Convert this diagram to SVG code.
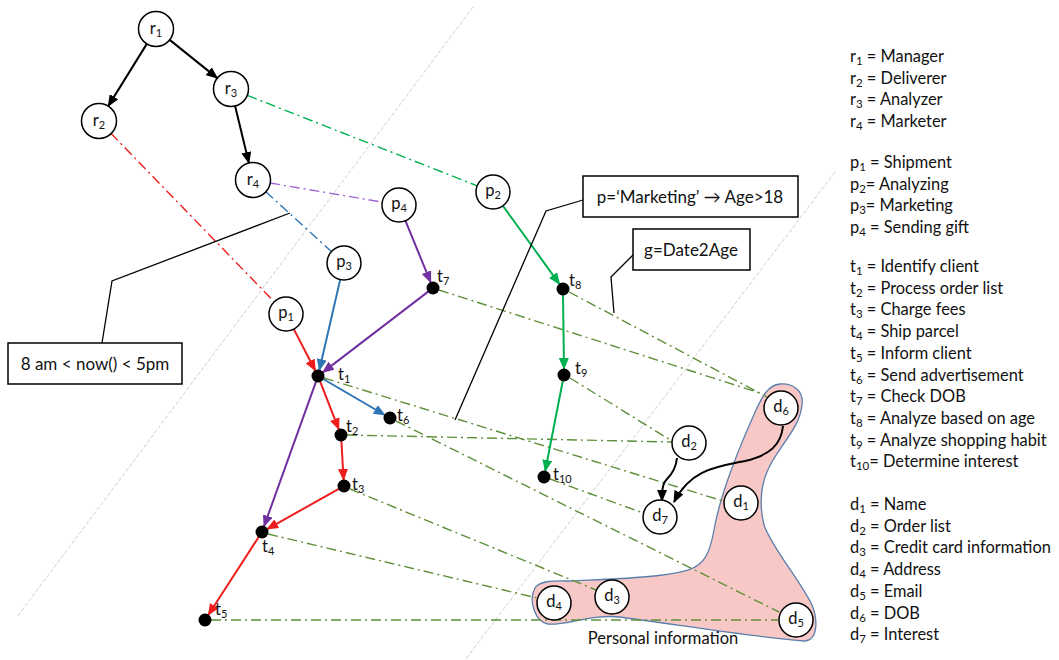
<svg xmlns="http://www.w3.org/2000/svg" width="1059" height="660" viewBox="0 0 1059 660">
<style>
text{font-family:Lato,"Open Sans","Liberation Sans",sans-serif;fill:#111}
.c{fill:#fff;stroke:#000;stroke-width:1.5}
.dot{fill:#000}
.lbl{font-size:16.5px}
.sub{font-size:11px}
.leg{font-size:16.4px}
.leg .sub{font-size:11.5px}
.box{fill:#fff;stroke:#000;stroke-width:1.5}
.callout{fill:none;stroke:#000;stroke-width:1.3}
.grey{stroke:#cfcfcf;stroke-width:1;stroke-dasharray:4 2;fill:none}
.dd{fill:none;stroke-width:1.4;stroke-dasharray:10 4 2 4}
.a{fill:none;stroke-width:2}
</style>
<defs>
<marker id="mk" markerUnits="userSpaceOnUse" markerWidth="12" markerHeight="10" refX="11" refY="5" orient="auto"><path d="M0,0 L12,5 L0,10 Z" fill="#000"/></marker>
<marker id="mr" markerUnits="userSpaceOnUse" markerWidth="12" markerHeight="10" refX="11" refY="5" orient="auto"><path d="M0,0 L12,5 L0,10 Z" fill="#ee1c1c"/></marker>
<marker id="mb" markerUnits="userSpaceOnUse" markerWidth="12" markerHeight="10" refX="11" refY="5" orient="auto"><path d="M0,0 L12,5 L0,10 Z" fill="#2e75b6"/></marker>
<marker id="mp" markerUnits="userSpaceOnUse" markerWidth="12" markerHeight="10" refX="11" refY="5" orient="auto"><path d="M0,0 L12,5 L0,10 Z" fill="#7030a0"/></marker>
<marker id="mg" markerUnits="userSpaceOnUse" markerWidth="12" markerHeight="10" refX="11" refY="5" orient="auto"><path d="M0,0 L12,5 L0,10 Z" fill="#00b050"/></marker>
</defs>

<g id="guides">
<line class="grey" x1="473" y1="7" x2="17" y2="617"/>
<line class="grey" x1="835" y1="172" x2="465" y2="660"/>
</g>

<g id="personal-information">
<path d="M780 384 C792 383 804 390 802 405 C800 425 785 440 773 460 C762 478 758 500 764 525 C772 548 800 580 812 605 C818 620 818 640 805 641 C760 638 680 625 620 617 C590 614 565 626 548 624 C535 622 528 600 535 588 C540 580 555 581 570 581 C610 579 660 578 688 570 C705 565 710 552 714 530 C720 495 738 450 756 410 C762 397 768 385 780 384 Z" fill="#f8c8c6" stroke="#5b7fad" stroke-width="1.3"/>
<text x="663" y="644" text-anchor="middle" style="font-size:16.5px">Personal information</text>
</g>

<g id="connectors">
<line class="dd" stroke="#ee1c1c" x1="110.8" y1="133.2" x2="274.2" y2="301.8"/>
<line class="dd" stroke="#00b050" x1="247.3" y1="95.4" x2="477.2" y2="185.8"/>
<line class="dd" stroke="#a066d3" x1="270" y1="183" x2="382.2" y2="202.1"/>
<line class="dd" stroke="#2e75b6" x1="265.6" y1="191.5" x2="331.4" y2="251.5"/>
<g stroke="#5f8f3a">
<line class="dd" x1="439" y1="290" x2="763" y2="394"/>
<line class="dd" x1="569" y1="292" x2="767" y2="397"/>
<line class="dd" x1="570" y1="378" x2="672" y2="441"/>
<line class="dd" x1="347" y1="435" x2="672" y2="442"/>
<line class="dd" x1="324" y1="378" x2="723" y2="501"/>
<line class="dd" x1="396" y1="421" x2="779" y2="612"/>
<line class="dd" x1="550" y1="479" x2="643" y2="513"/>
<line class="dd" x1="350" y1="489" x2="596" y2="590"/>
<line class="dd" x1="268" y1="534" x2="537" y2="598"/>
<line class="dd" x1="211" y1="620" x2="778" y2="620"/>
</g>
<line class="a" stroke="#000" x1="146.8" y1="43.9" x2="108.2" y2="106.1" marker-end="url(#mk)"/>
<line class="a" stroke="#000" x1="169.7" y1="39.9" x2="217.3" y2="78.1" marker-end="url(#mk)"/>
<line class="a" stroke="#000" x1="235.1" y1="106" x2="248.9" y2="163" marker-end="url(#mk)"/>
<path class="a" stroke="#000" d="M677 458 C676 468 672 474 667 479 C662 484 662 492 662 501" marker-end="url(#mk)"/>
<path class="a" stroke="#000" d="M783 426 C781 445 770 455 745 461 C715 467 690 470 674 502" marker-end="url(#mk)"/>
<line class="a" stroke="#ee1c1c" x1="293.8" y1="329.1" x2="315.3" y2="370.7" marker-end="url(#mr)"/>
<line class="a" stroke="#ee1c1c" x1="320.2" y1="381.6" x2="338.8" y2="429.4" marker-end="url(#mr)"/>
<line class="a" stroke="#ee1c1c" x1="341.4" y1="441" x2="343.6" y2="480" marker-end="url(#mr)"/>
<line class="a" stroke="#ee1c1c" x1="338.8" y1="488.9" x2="267.2" y2="529.1" marker-end="url(#mr)"/>
<line class="a" stroke="#ee1c1c" x1="258.7" y1="537" x2="208.3" y2="615" marker-end="url(#mr)"/>
<line class="a" stroke="#2e75b6" x1="340.2" y1="279.6" x2="319.3" y2="370.2" marker-end="url(#mb)"/>
<line class="a" stroke="#2e75b6" x1="323.2" y1="379" x2="384.8" y2="415" marker-end="url(#mb)"/>
<line class="a" stroke="#7030a0" x1="405.4" y1="220.7" x2="430.7" y2="282.4" marker-end="url(#mp)"/>
<line class="a" stroke="#7030a0" x1="428.2" y1="291.6" x2="322.8" y2="372.4" marker-end="url(#mp)"/>
<line class="a" stroke="#7030a0" x1="316" y1="381.6" x2="264" y2="526.4" marker-end="url(#mp)"/>
<line class="a" stroke="#00b050" x1="502.9" y1="205.8" x2="559.5" y2="284.1" marker-end="url(#mg)"/>
<line class="a" stroke="#00b050" x1="563" y1="295" x2="564" y2="369" marker-end="url(#mg)"/>
<line class="a" stroke="#00b050" x1="562.8" y1="381" x2="545.2" y2="471" marker-end="url(#mg)"/>
<polyline class="callout" points="102,343 112,281 290,213"/>
<polyline class="callout" points="583,200 546,211 455,420"/>
<polyline class="callout" points="633,255 611,277 614,313"/>
</g>

<g id="r1"><circle class="c" cx="156" cy="29" r="17.5"/><text class="lbl" x="156" y="34" text-anchor="middle">r<tspan class="sub" dy="3">1</tspan></text></g>
<g id="r2"><circle class="c" cx="99" cy="121" r="17.5"/><text class="lbl" x="99" y="126" text-anchor="middle">r<tspan class="sub" dy="3">2</tspan></text></g>
<g id="r3"><circle class="c" cx="231" cy="89" r="17.5"/><text class="lbl" x="231" y="94" text-anchor="middle">r<tspan class="sub" dy="3">3</tspan></text></g>
<g id="r4"><circle class="c" cx="253" cy="180" r="17.5"/><text class="lbl" x="253" y="185" text-anchor="middle">r<tspan class="sub" dy="3">4</tspan></text></g>

<g id="p1"><circle class="c" cx="286" cy="314" r="17"/><text class="lbl" x="286" y="318" text-anchor="middle">p<tspan class="sub" dy="3">1</tspan></text></g>
<g id="p2"><circle class="c" cx="493" cy="192" r="17"/><text class="lbl" x="493" y="196" text-anchor="middle">p<tspan class="sub" dy="3">2</tspan></text></g>
<g id="p3"><circle class="c" cx="344" cy="263" r="17"/><text class="lbl" x="344" y="267" text-anchor="middle">p<tspan class="sub" dy="3">3</tspan></text></g>
<g id="p4"><circle class="c" cx="399" cy="205" r="17"/><text class="lbl" x="399" y="209" text-anchor="middle">p<tspan class="sub" dy="3">4</tspan></text></g>

<g id="t1"><circle class="dot" cx="318" cy="376" r="6.5"/><text class="lbl" x="338" y="380">t<tspan class="sub" dy="3">1</tspan></text></g>
<g id="t2"><circle class="dot" cx="341" cy="435" r="6.5"/><text class="lbl" x="346" y="432">t<tspan class="sub" dy="3">2</tspan></text></g>
<g id="t3"><circle class="dot" cx="344" cy="486" r="6.5"/><text class="lbl" x="352" y="490">t<tspan class="sub" dy="3">3</tspan></text></g>
<g id="t4"><circle class="dot" cx="262" cy="532" r="6.5"/><text class="lbl" x="262" y="552">t<tspan class="sub" dy="3">4</tspan></text></g>
<g id="t5"><circle class="dot" cx="205" cy="620" r="6.5"/><text class="lbl" x="215" y="615">t<tspan class="sub" dy="3">5</tspan></text></g>
<g id="t6"><circle class="dot" cx="390" cy="418" r="6.5"/><text class="lbl" x="397" y="421">t<tspan class="sub" dy="3">6</tspan></text></g>
<g id="t7"><circle class="dot" cx="433" cy="288" r="6.5"/><text class="lbl" x="437" y="282">t<tspan class="sub" dy="3">7</tspan></text></g>
<g id="t8"><circle class="dot" cx="563" cy="289" r="6.5"/><text class="lbl" x="569" y="286">t<tspan class="sub" dy="3">8</tspan></text></g>
<g id="t9"><circle class="dot" cx="564" cy="375" r="6.5"/><text class="lbl" x="575" y="374">t<tspan class="sub" dy="3">9</tspan></text></g>
<g id="t10"><circle class="dot" cx="544" cy="477" r="6.5"/><text class="lbl" x="553" y="480">t<tspan class="sub" dy="3">10</tspan></text></g>

<g id="d1"><circle class="c" cx="741" cy="503" r="17"/><text class="lbl" x="741" y="507" text-anchor="middle">d<tspan class="sub" dy="3">1</tspan></text></g>
<g id="d2"><circle class="c" cx="689" cy="443" r="17"/><text class="lbl" x="689" y="447" text-anchor="middle">d<tspan class="sub" dy="3">2</tspan></text></g>
<g id="d3"><circle class="c" cx="612" cy="597" r="17"/><text class="lbl" x="612" y="601" text-anchor="middle">d<tspan class="sub" dy="3">3</tspan></text></g>
<g id="d4"><circle class="c" cx="554" cy="603" r="17"/><text class="lbl" x="554" y="607" text-anchor="middle">d<tspan class="sub" dy="3">4</tspan></text></g>
<g id="d5"><circle class="c" cx="796" cy="620" r="17"/><text class="lbl" x="796" y="624" text-anchor="middle">d<tspan class="sub" dy="3">5</tspan></text></g>
<g id="d6"><circle class="c" cx="781" cy="408" r="17"/><text class="lbl" x="781" y="412" text-anchor="middle">d<tspan class="sub" dy="3">6</tspan></text></g>
<g id="d7"><circle class="c" cx="660" cy="517" r="17"/><text class="lbl" x="660" y="521" text-anchor="middle">d<tspan class="sub" dy="3">7</tspan></text></g>

<g id="box-time"><rect class="box" x="8" y="343" width="174" height="41"/><text x="95" y="370" text-anchor="middle" style="font-size:17px">8 am &lt; now() &lt; 5pm</text></g>
<g id="box-marketing"><rect class="box" x="583" y="176" width="215" height="41"/><text x="690" y="203" text-anchor="middle" style="font-size:17px">p=‘Marketing’ → Age&gt;18</text></g>
<g id="box-date2age"><rect class="box" x="633" y="229" width="117" height="41"/><text x="691" y="256" text-anchor="middle" style="font-size:17px">g=Date2Age</text></g>

<g id="legend" class="leg">
<text x="850" y="62">r<tspan class="sub" dy="3">1</tspan><tspan dy="-3"> = Manager</tspan></text>
<text x="850" y="83.7">r<tspan class="sub" dy="3">2</tspan><tspan dy="-3"> = Deliverer</tspan></text>
<text x="850" y="105.4">r<tspan class="sub" dy="3">3</tspan><tspan dy="-3"> = Analyzer</tspan></text>
<text x="850" y="127.1">r<tspan class="sub" dy="3">4</tspan><tspan dy="-3"> = Marketer</tspan></text>
<text x="850" y="168">p<tspan class="sub" dy="3">1</tspan><tspan dy="-3"> = Shipment</tspan></text>
<text x="850" y="189.7">p<tspan class="sub" dy="3">2</tspan><tspan dy="-3">= Analyzing</tspan></text>
<text x="850" y="211.4">p<tspan class="sub" dy="3">3</tspan><tspan dy="-3">= Marketing</tspan></text>
<text x="850" y="233.1">p<tspan class="sub" dy="3">4</tspan><tspan dy="-3"> = Sending gift</tspan></text>
<text x="850" y="272">t<tspan class="sub" dy="3">1</tspan><tspan dy="-3"> = Identify client</tspan></text>
<text x="850" y="293.7">t<tspan class="sub" dy="3">2</tspan><tspan dy="-3"> = Process order list</tspan></text>
<text x="850" y="315.4">t<tspan class="sub" dy="3">3</tspan><tspan dy="-3"> = Charge fees</tspan></text>
<text x="850" y="337.1">t<tspan class="sub" dy="3">4</tspan><tspan dy="-3"> = Ship parcel</tspan></text>
<text x="850" y="358.8">t<tspan class="sub" dy="3">5</tspan><tspan dy="-3"> = Inform client</tspan></text>
<text x="850" y="380.5">t<tspan class="sub" dy="3">6</tspan><tspan dy="-3"> = Send advertisement</tspan></text>
<text x="850" y="402.2">t<tspan class="sub" dy="3">7</tspan><tspan dy="-3"> = Check DOB</tspan></text>
<text x="850" y="423.9">t<tspan class="sub" dy="3">8</tspan><tspan dy="-3"> = Analyze based on age</tspan></text>
<text x="850" y="445.6">t<tspan class="sub" dy="3">9</tspan><tspan dy="-3"> = Analyze shopping habit</tspan></text>
<text x="850" y="467.3">t<tspan class="sub" dy="3">10</tspan><tspan dy="-3">= Determine interest</tspan></text>
<text x="850" y="510">d<tspan class="sub" dy="3">1</tspan><tspan dy="-3"> = Name</tspan></text>
<text x="850" y="531.7">d<tspan class="sub" dy="3">2</tspan><tspan dy="-3"> = Order list</tspan></text>
<text x="850" y="553.4">d<tspan class="sub" dy="3">3</tspan><tspan dy="-3"> = Credit card information</tspan></text>
<text x="850" y="575.1">d<tspan class="sub" dy="3">4</tspan><tspan dy="-3"> = Address</tspan></text>
<text x="850" y="596.8">d<tspan class="sub" dy="3">5</tspan><tspan dy="-3"> = Email</tspan></text>
<text x="850" y="618.5">d<tspan class="sub" dy="3">6</tspan><tspan dy="-3"> = DOB</tspan></text>
<text x="850" y="640.2">d<tspan class="sub" dy="3">7</tspan><tspan dy="-3"> = Interest</tspan></text>
</g>
</svg>
